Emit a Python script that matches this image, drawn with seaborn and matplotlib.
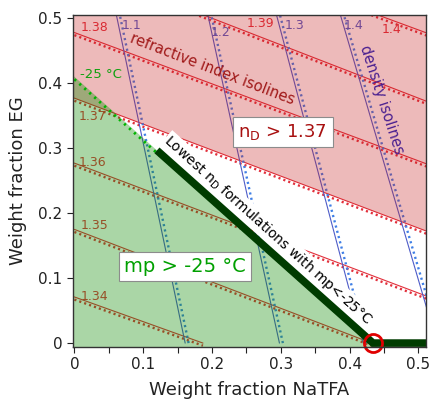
import numpy as np
import pandas as pd
import matplotlib
matplotlib.use("Agg")
import matplotlib.pyplot as plt
import seaborn as sns
from matplotlib.patches import Polygon
from matplotlib.ticker import MultipleLocator, FuncFormatter

# ---------------- data ----------------
# refractive-index isolines (n_D): y at x=0 and slope dy/dx
ri_values = [1.34, 1.35, 1.36, 1.37, 1.38, 1.39, 1.40]
ri_intercept = [0.071, 0.175, 0.277, 0.377, 0.478, 0.582, 0.677]
ri_slope = [-0.38, -0.405, -0.40, -0.40, -0.395, -0.41, -0.39]

# density isolines: x at y=0 and x at y=0.5
dens_values = [1.1, 1.2, 1.3, 1.4]
dens_x_bottom = [0.161, 0.298, 0.420, 0.527]
dens_x_top = [0.062, 0.195, 0.295, 0.388]

# -25 degC melting-point isoline: y at x=0, x at y=0
mp_y_at_0 = 0.41
mp_x_at_0 = 0.434
# start of the "lowest n_D" segment along the mp isoline
lowest_x_start = 0.12

# label positions (data coordinates)
ri_label_x = [0.029, 0.029, 0.026, 0.026, 0.030, 0.270, 0.461]
ri_label_y = [0.072, 0.181, 0.278, 0.349, 0.486, 0.492, 0.483]
dens_label_x = [0.083, 0.212, 0.320, 0.406]
dens_label_y = [0.489, 0.478, 0.489, 0.489]

# ---------------- styling ----------------
sns.set_style("ticks")
plt.rcParams['font.family'] = ['DejaVu Sans']
plt.rcParams['mathtext.fontset'] = 'dejavusans'

RED = '#E2303C'
BLUE_SOLID = '#4E5CC8'
BLUE_DOT = '#3F7FE6'

fig = plt.figure(figsize=(4.31, 4.03), dpi=100)
ax = fig.add_axes([0.1694, 0.139, 0.819, 0.8238])
ax.set_xlim(-0.002, 0.511)
ax.set_ylim(-0.006, 0.505)

# refractive index isolines
for v, b, m in zip(ri_values, ri_intercept, ri_slope):
    x_end = min(0.53, -b / m)
    xs = [0.0, x_end]
    ys = [b, b + m * x_end]
    sns.lineplot(x=xs, y=ys, ax=ax, color=RED, lw=0.8, sort=False, zorder=1)
    sns.lineplot(x=xs, y=[ys[0] - 0.004, ys[1] - 0.004], ax=ax, color=RED,
                 lw=1.7, linestyle=(0, (0.9, 1.3)), sort=False, zorder=1)

for v, lx, ly in zip(ri_values, ri_label_x, ri_label_y):
    ax.text(lx, ly, f"{v:g}", color=RED, fontsize=9, ha='center', va='center',
            zorder=1.5)

# density isolines
for v, xb, xt in zip(dens_values, dens_x_bottom, dens_x_top):
    ys = [0.0, 0.5 + 0.01]
    xs = [xb, xt + (xt - xb) * 0.02]
    sns.lineplot(x=xs, y=ys, ax=ax, color=BLUE_SOLID, lw=0.8, sort=False,
                 zorder=1)
    sns.lineplot(x=[xs[0] + 0.005, xs[1] + 0.005], y=ys, ax=ax, color=BLUE_DOT,
                 lw=1.7, linestyle=(0, (0.9, 1.4)), sort=False, zorder=1)

for v, lx, ly in zip(dens_values, dens_label_x, dens_label_y):
    ax.text(lx, ly, f"{v:g}", color=BLUE_SOLID, fontsize=9, ha='center',
            va='center', zorder=1.5)

# n_D > 1.37 region (pink overlay)
i137 = ri_values.index(1.37)
b37, m37 = ri_intercept[i137], ri_slope[i137]
pink = Polygon([(-0.02, b37 - 0.02 * m37), (0.53, b37 + 0.53 * m37),
                (0.53, 0.6), (-0.02, 0.6)], closed=True,
               facecolor='#C61C1C', alpha=0.30, edgecolor='none', zorder=3)
ax.add_patch(pink)

# mp > -25 degC region (green overlay)
mp_slope = -mp_y_at_0 / mp_x_at_0
green = Polygon([(-0.02, mp_y_at_0 - 0.02 * mp_slope), (mp_x_at_0, 0.0),
                 (mp_x_at_0 - 0.02 / mp_slope, -0.02), (-0.02, -0.02)],
                closed=True, facecolor='#0C8A00', alpha=0.35,
                edgecolor='none', zorder=3.5)
ax.add_patch(green)

# -25 degC isoline (green dots)
sns.lineplot(x=[0.0, mp_x_at_0], y=[mp_y_at_0 - 0.004, -0.004], ax=ax,
             color='#00B400', lw=2.0, linestyle=(0, (0.8, 1.6)), sort=False,
             zorder=4.5)

# lowest n_D formulations (thick dark green line)
sns.lineplot(x=[lowest_x_start, mp_x_at_0, 0.53],
             y=[mp_y_at_0 + mp_slope * lowest_x_start, 0.0, 0.0], ax=ax,
             color='#003C00', lw=5.5, sort=False, zorder=5,
             solid_capstyle='butt', solid_joinstyle='miter')

# optimum point
ax.plot([mp_x_at_0], [0.0], marker='o', ms=13, mfc='none', mec='#E00000',
        mew=2.0, zorder=6, clip_on=False)

# annotations
ax.text(0.201, 0.4215, "refractive index isolines", color='#A01818',
        fontsize=10.5, rotation=-21, rotation_mode='anchor', ha='center',
        va='center', zorder=4)
ax.text(0.446, 0.374, "density isolines", color='#4A2090', fontsize=10.5,
        rotation=-72, rotation_mode='anchor', ha='center', va='center',
        zorder=4)
ax.text(0.038, 0.414, "-25 °C", color='#10A010', fontsize=9.5, ha='center',
        va='center', zorder=4)
ax.text(0.282, 0.173, r"Lowest n$_\mathrm{D}$ formulations with mp<-25°C",
        color='black', fontsize=10, rotation=-42, rotation_mode='anchor',
        ha='center', va='center', zorder=4.2,
        bbox=dict(boxstyle='square,pad=0.1', fc='white', ec='none'))
ax.text(0.303, 0.325, r"n$_\mathrm{D}$ > 1.37", color='#A81010', fontsize=13,
        ha='center', va='center', zorder=6,
        bbox=dict(boxstyle='square,pad=0.3', fc='white', ec='#8C8C8C', lw=0.8))
ax.text(0.161, 0.118, "mp > -25 °C", color='#00A000', fontsize=14,
        ha='center', va='center', zorder=6,
        bbox=dict(boxstyle='square,pad=0.25', fc='white', ec='#8C8C8C', lw=0.8))

# axes formatting
ax.xaxis.set_major_locator(MultipleLocator(0.1))
ax.xaxis.set_minor_locator(MultipleLocator(0.05))
ax.yaxis.set_major_locator(MultipleLocator(0.1))
fmt = FuncFormatter(lambda v, p: "0" if abs(v) < 1e-9 else f"{v:.1f}")
ax.xaxis.set_major_formatter(fmt)
ax.yaxis.set_major_formatter(fmt)
ax.tick_params(axis='both', which='both', direction='out', length=4,
               width=0.8, labelsize=11, colors='#222222')
for s in ax.spines.values():
    s.set_visible(True)
    s.set_color('#333333')
    s.set_linewidth(1.0)
    s.set_zorder(7)
ax.set_xlabel("Weight fraction NaTFA", fontsize=13, labelpad=6, color='#222222')
ax.set_ylabel("Weight fraction EG", fontsize=13, labelpad=8, color='#222222')

fig.savefig("out.png", dpi=100)
